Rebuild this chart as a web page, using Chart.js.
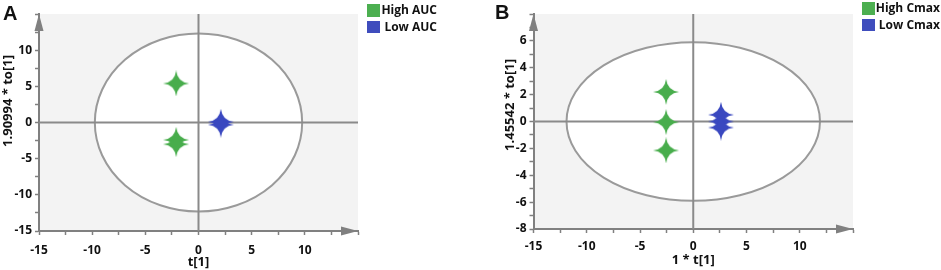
<!DOCTYPE html>
<html>
<head>
<meta charset="utf-8">
<script src="https://cdn.jsdelivr.net/npm/chart.js@4.4.1/dist/chart.umd.min.js"></script>
<style>
  html, body { margin: 0; padding: 0; background: #fff; }
  body { width: 941px; height: 270px; position: relative; overflow: hidden; font-family: 'Open Sans', sans-serif; }
  #wrapA { position: absolute; left: 0; top: 0; width: 372px; height: 270px; }
  #wrapB { position: absolute; left: 470px; top: 0; width: 471px; height: 270px; }
  .letter { position: absolute; font: bold 20px 'Liberation Sans', Arial, sans-serif; color: #111; }
  .leg { position: absolute; font: bold 12px 'Open Sans', sans-serif; color: #111; }
  .leg .row { position: relative; height: 16.5px; }
  .leg .sw { position: absolute; width: 13px; height: 12.5px; }
  .leg .tx { position: absolute; right: 0; white-space: nowrap; line-height: 12.5px; }
</style>
</head>
<body>
<div id="wrapA"><canvas id="chartA"></canvas></div>
<div id="wrapB"><canvas id="chartB"></canvas></div>
<div class="letter" style="left:3px; top:2px;">A</div>
<div class="letter" style="left:495px; top:1px;">B</div>
<div class="leg" style="left:367px; top:4px; width:70px;">
  <div class="row"><div class="sw" style="left:0;background:#4caf50"></div><div class="tx">High AUC</div></div>
  <div class="row"><div class="sw" style="left:0;background:#3f4dbd"></div><div class="tx">Low AUC</div></div>
</div>
<div class="leg" style="left:862px; top:2px; width:78px;">
  <div class="row"><div class="sw" style="left:0;background:#4caf50"></div><div class="tx">High Cmax</div></div>
  <div class="row"><div class="sw" style="left:0;background:#3f4dbd"></div><div class="tx">Low Cmax</div></div>
</div>
<script>
// panel A: AUC
const aHighX = [-2.1, -2.1, -2.1];
const aHighY = [5.4, -2.4, -3.0];
const aLowX = [2.1, 2.1];
const aLowY = [0.1, -0.3];
const aEllipse = [9.75, 12.3];   // radii in t[1], to[1] units

// panel B: Cmax
const bHighX = [-2.55, -2.55, -2.55];
const bHighY = [2.2, -0.05, -2.15];
const bLowX = [2.6, 2.6, 2.6];
const bLowY = [0.5, 0.0, -0.45];
const bEllipse = [11.9, 5.9];

const GREEN = '#48ad4c';
const BLUE = '#3a48c0';
const AXIS = '#808080';
const FONT = "'Open Sans', sans-serif";

function toPoints(xs, ys) {
  return xs.map((x, i) => ({ x, y: ys[i] }));
}

// four pointed star used as point style
function makeStar(color, size) {
  const c = document.createElement('canvas');
  c.width = size; c.height = size;
  const ctx = c.getContext('2d');
  const m = size / 2, k = size * 0.05;
  ctx.fillStyle = color;
  ctx.beginPath();
  ctx.moveTo(m, 0);
  ctx.quadraticCurveTo(m + k, m - k, size, m);
  ctx.quadraticCurveTo(m + k, m + k, m, size);
  ctx.quadraticCurveTo(m - k, m + k, 0, m);
  ctx.quadraticCurveTo(m - k, m - k, m, 0);
  ctx.fill();
  return c;
}

// nudge layout padding until the plot area sits where the reference has it
function fitArea(chart, target) {
  const p = chart.options.layout.padding;
  for (let i = 0; i < 3; i++) {
    const a = chart.chartArea;
    p.top += target.top - a.top;
    p.left += target.left - a.left;
    p.right += a.right - target.right;
    chart.update('none');
  }
}

function makeChart(canvasId, cfg) {
  const starG = makeStar(GREEN, 26);
  const starB = makeStar(BLUE, 26);

  // background, confidence ellipse, zero lines, arrows and y title
  const decor = {
    id: 'decor',
    beforeDraw(chart) {
      const { ctx, chartArea: a, scales: { x, y } } = chart;
      const cx = x.getPixelForValue(0), cy = y.getPixelForValue(0);
      const rx = x.getPixelForValue(cfg.ellipse[0]) - cx;
      const ry = cy - y.getPixelForValue(cfg.ellipse[1]);
      ctx.save();
      ctx.fillStyle = '#f3f3f3';
      ctx.fillRect(a.left, a.top, a.right - a.left, a.bottom - a.top);
      ctx.beginPath();
      ctx.ellipse(cx, cy, rx, ry, 0, 0, Math.PI * 2);
      ctx.fillStyle = '#fff';
      ctx.fill();
      ctx.restore();
    },
    beforeDatasetsDraw(chart) {
      const { ctx, chartArea: a, scales: { x, y } } = chart;
      const cx = x.getPixelForValue(0), cy = y.getPixelForValue(0);
      const rx = x.getPixelForValue(cfg.ellipse[0]) - cx;
      const ry = cy - y.getPixelForValue(cfg.ellipse[1]);
      ctx.save();
      ctx.lineWidth = 2;
      ctx.strokeStyle = '#9a9a9a';
      ctx.beginPath();
      ctx.ellipse(cx, cy, rx, ry, 0, 0, Math.PI * 2);
      ctx.stroke();
      ctx.strokeStyle = '#8a8a8a';
      ctx.beginPath();
      ctx.moveTo(a.left, cy); ctx.lineTo(a.right, cy);
      ctx.moveTo(cx, a.top); ctx.lineTo(cx, a.bottom);
      ctx.stroke();
      ctx.restore();
    },
    afterDraw(chart) {
      const { ctx, chartArea: a } = chart;
      ctx.save();
      ctx.fillStyle = AXIS;
      ctx.beginPath();
      ctx.moveTo(a.left, a.top); ctx.lineTo(a.left - 4.5, a.top + 17); ctx.lineTo(a.left + 4.5, a.top + 17);
      ctx.fill();
      ctx.beginPath();
      ctx.moveTo(a.right, a.bottom); ctx.lineTo(a.right - 17, a.bottom - 4.5); ctx.lineTo(a.right - 17, a.bottom + 4.5);
      ctx.fill();
      ctx.translate(cfg.yTitlePos[0], cfg.yTitlePos[1]);
      ctx.rotate(-Math.PI / 2);
      ctx.font = 'bold 13px ' + FONT;
      ctx.fillStyle = '#111';
      ctx.textAlign = 'center';
      ctx.textBaseline = 'middle';
      ctx.fillText(cfg.yTitle, 0, 0);
      ctx.restore();
    }
  };

  const tickFont = { family: FONT, size: 12, weight: 'bold' };

  const chart = new Chart(document.getElementById(canvasId), {
    type: 'scatter',
    data: {
      datasets: [
        { label: cfg.labels[0], data: toPoints(cfg.highX, cfg.highY), pointStyle: starG, pointRadius: 13, pointHoverRadius: 13 },
        { label: cfg.labels[1], data: toPoints(cfg.lowX, cfg.lowY), pointStyle: starB, pointRadius: 13, pointHoverRadius: 13 }
      ]
    },
    options: {
      responsive: true,
      maintainAspectRatio: false,
      animation: false,
      layout: { padding: { top: 8, right: 10, left: 0, bottom: 0 } },
      scales: {
        x: {
          type: 'linear',
          min: -15,
          max: 15,
          afterFit: (s) => { s.height = cfg.xAxisHeight; },
          ticks: {
            stepSize: 2.5,
            color: '#111',
            font: tickFont,
            padding: cfg.xTickPad,
            maxRotation: 0,
            autoSkip: false,
            callback: (v) => (v % 5 === 0 && v !== 15) ? v : ''
          },
          grid: { drawOnChartArea: false, drawTicks: true, tickLength: 4, tickColor: AXIS, tickWidth: 1.5 },
          border: { display: true, color: AXIS, width: 2 },
          title: { display: true, text: cfg.xTitle, color: '#111', font: { family: FONT, size: 13, weight: 'bold' }, padding: { top: 0, bottom: cfg.xTitlePad } }
        },
        y: {
          type: 'linear',
          min: cfg.yMin,
          max: cfg.yMax,
          afterFit: (s) => { s.width = cfg.yAxisWidth; },
          ticks: {
            stepSize: cfg.yStep,
            color: '#111',
            font: tickFont,
            padding: 3,
            autoSkip: false,
            callback: (v) => (v % cfg.yLabelEvery === 0 && v !== cfg.yMax) ? v : ''
          },
          grid: { drawOnChartArea: false, drawTicks: true, tickLength: 4, tickColor: AXIS, tickWidth: 1.5 },
          border: { display: true, color: AXIS, width: 2 }
        }
      },
      plugins: {
        legend: { display: false },
        tooltip: { enabled: false }
      }
    },
    plugins: [decor]
  });
  fitArea(chart, cfg.area);
  return chart;
}

makeChart('chartA', {
  highX: aHighX, highY: aHighY, lowX: aLowX, lowY: aLowY,
  ellipse: aEllipse,
  labels: ['High AUC', 'Low AUC'],
  yMin: -15, yMax: 15, yStep: 2.5, yLabelEvery: 5,
  xTitle: 't[1]', yTitle: '1.90994 * to[1]',
  yTitlePos: [8, 101],
  area: { left: 39, top: 8.5, right: 360 },
  xAxisHeight: 39, yAxisWidth: 39, xTitlePad: 0, xTickPad: 8
});

makeChart('chartB', {
  highX: bHighX, highY: bHighY, lowX: bLowX, lowY: bLowY,
  ellipse: bEllipse,
  labels: ['High Cmax', 'Low Cmax'],
  yMin: -8, yMax: 8, yStep: 1, yLabelEvery: 2,
  xTitle: '1 * t[1]', yTitle: '1.45542 * to[1]',
  yTitlePos: [40, 105],
  area: { left: 63.5, top: 6.5, right: 383 },
  xAxisHeight: 41, yAxisWidth: 64, xTitlePad: 2, xTickPad: 6
});
</script>
</body>
</html>
